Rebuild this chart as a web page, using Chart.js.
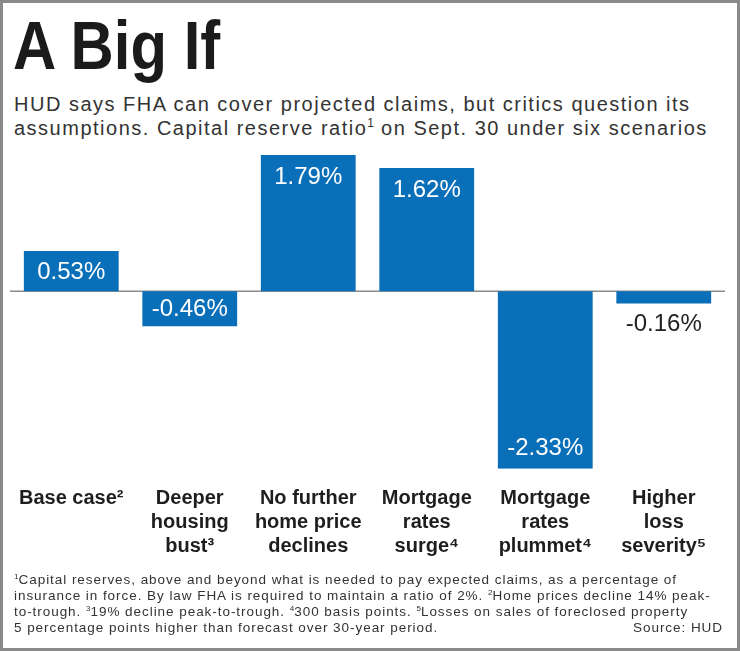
<!DOCTYPE html>
<html>
<head>
<meta charset="utf-8">
<script src="https://cdn.jsdelivr.net/npm/chart.js@4/dist/chart.umd.min.js"></script>
<style>
  body { margin: 0; background: #fff; }
  #page { position: relative; width: 740px; height: 651px; overflow: hidden; background: #fff; font-family: "Liberation Sans", Arial, sans-serif; }
  #frame { position: absolute; left: 0; top: 0; width: 740px; height: 651px; box-sizing: border-box; border: 3px solid #8a8a8a; pointer-events: none; }
  #title { position: absolute; left: 13px; top: 11px; font-weight: bold; font-size: 68px; line-height: 68px; color: #1b1b1b; white-space: nowrap; transform: scaleX(0.88); transform-origin: 0 0; }
  #subtitle { position: absolute; left: 14px; top: 92px; font-size: 20px; line-height: 24px; letter-spacing: 1.5px; color: #333; white-space: nowrap; }
  #subtitle sup, #notes sup { font-size: 60%; line-height: 0; letter-spacing: 0; }
  #chart { position: absolute; left: 0; top: 140px; }
  #notes { position: absolute; left: 14px; top: 572px; width: 709px; font-size: 13.5px; line-height: 16px; letter-spacing: 0.95px; color: #333; white-space: nowrap; }
  #notes .last { display: flex; justify-content: space-between; }
</style>
</head>
<body>
<div id="page">
  <div id="title">A Big If</div>
  <div id="subtitle">HUD says FHA can cover projected claims, but critics question its<br>assumptions. Capital reserve ratio<sup>1</sup> on Sept. 30 under six scenarios</div>
  <canvas id="chart" width="740" height="438"></canvas>
  <div id="notes">
    <sup>1</sup>Capital reserves, above and beyond what is needed to pay expected claims, as a percentage of<br>
    insurance in force. By law FHA is required to maintain a ratio of 2%. <sup>2</sup>Home prices decline 14% peak-<br>
    to-trough. <sup>3</sup>19% decline peak-to-trough. <sup>4</sup>300 basis points. <sup>5</sup>Losses on sales of foreclosed property<br>
    <div class="last"><span>5 percentage points higher than forecast over 30-year period.</span><span>Source: HUD</span></div>
  </div>
  <div id="frame"></div>
</div>
<script>
// scenarios (x axis), one label line per array entry
let scenarios = [
  ["Base case\u00b2"],
  ["Deeper", "housing", "bust\u00b3"],
  ["No further", "home price", "declines"],
  ["Mortgage", "rates", "surge\u2074"],
  ["Mortgage", "rates", "plummet\u2074"],
  ["Higher", "loss", "severity\u2075"]
];
// capital reserve ratio, percent
let reserveRatio = [0.53, -0.46, 1.79, 1.62, -2.33, -0.16];

let barBlue = "#0a6fb9";

// gray line across the chart at zero
let zeroLine = {
  id: "zeroLine",
  beforeDatasetsDraw: function (chart) {
    let ctx = chart.ctx;
    let y = chart.scales.y.getPixelForValue(0);
    ctx.save();
    ctx.strokeStyle = "#8c8c8c";
    ctx.lineWidth = 1.5;
    ctx.beginPath();
    ctx.moveTo(chart.chartArea.left - 2, y);
    ctx.lineTo(chart.chartArea.right + 2, y);
    ctx.stroke();
    ctx.restore();
  }
};

// value labels: inside the bar end for long bars, centered for short, outside for tiny
let valueLabels = {
  id: "valueLabels",
  afterDatasetsDraw: function (chart) {
    let ctx = chart.ctx;
    let meta = chart.getDatasetMeta(0);
    ctx.save();
    ctx.font = "24px 'Liberation Sans', Arial, sans-serif";
    ctx.textAlign = "center";
    ctx.textBaseline = "middle";
    meta.data.forEach(function (bar, i) {
      let v = reserveRatio[i];
      let len = Math.abs(bar.base - bar.y);
      let y;
      if (len > 70) {
        y = v >= 0 ? bar.y + 21 : bar.y - 21;
        ctx.fillStyle = "#fff";
      } else if (len > 25) {
        y = (bar.y + bar.base) / 2;
        ctx.fillStyle = "#fff";
      } else {
        y = v >= 0 ? bar.y - 20 : bar.y + 20;
        ctx.fillStyle = "#222";
      }
      ctx.fillText(v.toFixed(2) + "%", bar.x, y + 1);
    });
    ctx.restore();
  }
};

let ctx = document.getElementById("chart").getContext("2d");
new Chart(ctx, {
  type: "bar",
  data: {
    labels: scenarios,
    datasets: [
      {
        data: reserveRatio,
        backgroundColor: barBlue,
        borderWidth: 0,
        barPercentage: 0.8,
        categoryPercentage: 1.0
      }
    ]
  },
  plugins: [zeroLine, valueLabels],
  options: {
    responsive: false,
    animation: false,
    layout: { padding: { left: 12, right: 17, top: 15, bottom: 2 } },
    plugins: {
      legend: { display: false },
      tooltip: { enabled: false }
    },
    scales: {
      x: {
        grid: { display: false, drawTicks: false },
        border: { display: false },
        ticks: {
          color: "#1e1e1e",
          padding: 17,
          maxRotation: 0,
          autoSkip: false,
          font: { family: "'Liberation Sans', Arial, sans-serif", weight: "bold", size: 20, lineHeight: 1.22 }
        }
      },
      y: {
        display: false,
        min: -2.33,
        max: 1.79
      }
    }
  }
});
</script>
</body>
</html>
